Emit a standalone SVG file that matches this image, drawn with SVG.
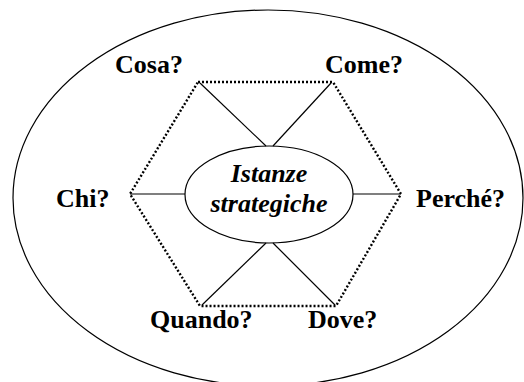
<svg xmlns="http://www.w3.org/2000/svg" width="524" height="382" viewBox="0 0 524 382">
  <style>
    .outline { fill: none; stroke: #000; stroke-width: 1.2; }
    .spoke { stroke: #000; stroke-width: 1.2; fill: none; }
    .hex { fill: none; stroke: #000; stroke-width: 2.4; stroke-dasharray: 2 2; }
    .q { font-family: "Liberation Serif", "Times New Roman", serif; font-weight: bold; font-size: 26px; fill: #000; }
    .core { font-family: "Liberation Serif", "Times New Roman", serif; font-weight: bold; font-style: italic; font-size: 26px; fill: #000; text-anchor: middle; }
  </style>
  <rect width="524" height="382" fill="#fff"/>

  <!-- outer boundary -->
  <g id="context">
    <ellipse class="outline" cx="268" cy="198" rx="255" ry="188"/>
  </g>

  <!-- dotted hexagon linking the six questions -->
  <g id="hexagon">
    <polygon class="hex" points="198,82 333,82 401,194 336,306 200,306 130,194"/>
  </g>

  <!-- spokes from the centre to the hexagon vertices -->
  <g id="connectors">
    <line class="spoke" x1="200" y1="83" x2="266" y2="146"/>
    <line class="spoke" x1="331" y1="83" x2="273" y2="146"/>
    <line class="spoke" x1="130" y1="194" x2="185" y2="194"/>
    <line class="spoke" x1="353" y1="194" x2="401" y2="194"/>
    <line class="spoke" x1="266" y1="243" x2="202" y2="305"/>
    <line class="spoke" x1="273" y1="243" x2="335" y2="305"/>
  </g>

  <g id="istanze">
    <ellipse class="outline" cx="269" cy="194.5" rx="84" ry="48.5" fill="#fff"/>
    <text class="core" x="269" y="182">Istanze</text>
    <text class="core" x="269" y="212">strategiche</text>
  </g>

  <g id="cosa"><text class="q" x="115" y="73">Cosa?</text></g>
  <g id="come"><text class="q" x="325" y="73">Come?</text></g>
  <g id="chi"><text class="q" x="56" y="207">Chi?</text></g>
  <g id="perche"><text class="q" x="416" y="207">Perché?</text></g>
  <g id="quando"><text class="q" x="150" y="328">Quando?</text></g>
  <g id="dove"><text class="q" x="308" y="328">Dove?</text></g>
</svg>
